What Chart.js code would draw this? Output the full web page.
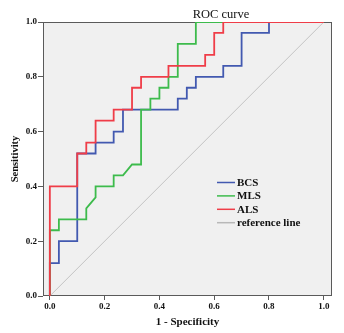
<!DOCTYPE html>
<html>
<head>
<meta charset="utf-8">
<script src="https://cdn.jsdelivr.net/npm/chart.js@4"></script>
<style>
  html, body { margin: 0; padding: 0; background: #fff; }
  #wrap { width: 344px; height: 333px; }
</style>
</head>
<body>
<div id="wrap"><canvas id="myChart" width="344" height="333"></canvas></div>
<script>
// ROC steps (1 - specificity, sensitivity)
const bcsX = [0, 0, 0.033, 0.033, 0.1, 0.1, 0.167, 0.167, 0.233, 0.233, 0.267, 0.267, 0.467, 0.467, 0.5, 0.5, 0.533, 0.533, 0.633, 0.633, 0.7, 0.7, 0.8, 0.8, 1];
const bcsY = [0, 0.12, 0.12, 0.2, 0.2, 0.52, 0.52, 0.56, 0.56, 0.6, 0.6, 0.68, 0.68, 0.72, 0.72, 0.76, 0.76, 0.8, 0.8, 0.84, 0.84, 0.96, 0.96, 1, 1];

const mlsX = [0, 0, 0.033, 0.033, 0.133, 0.133, 0.167, 0.167, 0.233, 0.233, 0.267, 0.3, 0.333, 0.333, 0.367, 0.367, 0.4, 0.4, 0.433, 0.433, 0.467, 0.467, 0.533, 0.533, 1];
const mlsY = [0, 0.24, 0.24, 0.28, 0.28, 0.32, 0.36, 0.4, 0.4, 0.44, 0.44, 0.48, 0.48, 0.68, 0.68, 0.72, 0.72, 0.76, 0.76, 0.8, 0.8, 0.92, 0.92, 1, 1];

const alsX = [0, 0, 0.1, 0.1, 0.133, 0.133, 0.167, 0.167, 0.233, 0.233, 0.3, 0.3, 0.333, 0.333, 0.433, 0.433, 0.567, 0.567, 0.6, 0.6, 0.633, 0.633, 1];
const alsY = [0, 0.4, 0.4, 0.52, 0.52, 0.56, 0.56, 0.64, 0.64, 0.68, 0.68, 0.76, 0.76, 0.8, 0.8, 0.84, 0.84, 0.88, 0.88, 0.96, 0.96, 1, 1];

const refX = [0, 1];
const refY = [0, 1];

const seriesNames = ['BCS', 'MLS', 'ALS', 'reference line'];
const xTicks = [0, 0.2, 0.4, 0.6, 0.8, 1.0];
const yTicks = [0, 0.2, 0.4, 0.6, 0.8, 1.0];

const SERIF = '"Liberation Serif", "Times New Roman", serif';
const frameColor = '#5a5a5a';

function pts(xs, ys) {
    return xs.map((x, i) => ({ x: x, y: ys[i] }));
}

// background, frame, title, axis titles and legend
let decor = {
    id: 'decor',
    beforeDraw(chart) {
        let c = chart.ctx, a = chart.chartArea;
        c.save();
        c.fillStyle = '#f0f0f0';
        c.fillRect(a.left, a.top, a.right - a.left, a.bottom - a.top);
        c.restore();
    },
    beforeDatasetsDraw(chart) {
        let c = chart.ctx, a = chart.chartArea;
        c.save();
        c.strokeStyle = frameColor;
        c.lineWidth = 1;
        c.strokeRect(a.left + 0.5, a.top + 0.5, a.right - a.left - 1, a.bottom - a.top - 1);
        c.restore();
    },
    afterDraw(chart) {
        let c = chart.ctx, a = chart.chartArea;
        c.save();
        c.fillStyle = '#111';
        c.textBaseline = 'middle';
        c.textAlign = 'center';
        c.font = '12.5px ' + SERIF;
        c.fillText('ROC curve', 221, 15);
        c.font = 'bold 11px ' + SERIF;
        c.fillText('1 - Specificity', (a.left + a.right) / 2, 322);
        c.save();
        c.translate(15, (a.top + a.bottom) / 2);
        c.rotate(-Math.PI / 2);
        c.font = 'bold 10.5px ' + SERIF;
        c.fillText('Sensitivity', 0, 0);
        c.restore();

        // legend inside the plot
        c.textAlign = 'left';
        c.font = 'bold 11px ' + SERIF;
        chart.data.datasets.forEach((ds, i) => {
            let y = 182.5 + i * 13.4;
            c.strokeStyle = ds.borderColor;
            c.lineWidth = 1.5;
            c.beginPath();
            c.moveTo(217, y);
            c.lineTo(235, y);
            c.stroke();
            c.fillStyle = '#111';
            c.fillText(ds.label, 237, y + 0.5);
        });
        c.restore();
    }
};

let data = {
    type: 'line',
    data: {
        datasets: [{
            label: seriesNames[0],
            data: pts(bcsX, bcsY),
            borderColor: '#4259b0',
            borderWidth: 1.8,
            order: 2,
        }, {
            label: seriesNames[1],
            data: pts(mlsX, mlsY),
            borderColor: '#3dbb4c',
            borderWidth: 1.8,
            order: 1,
        }, {
            label: seriesNames[2],
            data: pts(alsX, alsY),
            borderColor: '#ef3d48',
            borderWidth: 1.8,
            order: 0,
        }, {
            label: seriesNames[3],
            data: pts(refX, refY),
            borderColor: '#b8b8b8',
            borderWidth: 0.8,
            order: 3,
        }]
    },
    options: {
        responsive: false,
        animation: false,
        elements: {
            point: { radius: 0 },
            line: { tension: 0, fill: false }
        },
        layout: { padding: { left: 0, right: 12, top: 22, bottom: 0 } },
        plugins: {
            legend: { display: false },
            title: { display: false },
            tooltip: { enabled: false }
        },
        scales: {
            x: {
                type: 'linear',
                min: -0.025,
                max: 1.03,
                afterFit: (s) => { s.height = 37; },
                afterBuildTicks: (s) => { s.ticks = xTicks.map(v => ({ value: v })); },
                grid: { drawOnChartArea: false, drawTicks: true, tickLength: 4, color: frameColor },
                border: { display: false },
                ticks: {
                    padding: 1,
                    color: '#111',
                    font: { family: SERIF, size: 9, weight: 'bold' },
                    callback: (v) => v.toFixed(1),
                    maxRotation: 0
                }
            },
            y: {
                type: 'linear',
                min: 0,
                max: 1,
                afterFit: (s) => { s.width = 43; },
                afterBuildTicks: (s) => { s.ticks = yTicks.map(v => ({ value: v })); },
                grid: { drawOnChartArea: false, drawTicks: true, tickLength: 5, color: frameColor },
                border: { display: false },
                ticks: {
                    padding: 1,
                    color: '#111',
                    font: { family: SERIF, size: 9, weight: 'bold' },
                    callback: (v) => v.toFixed(1)
                }
            }
        }
    },
    plugins: [decor]
};

let ctx = document.getElementById('myChart').getContext('2d');
let myChart = new Chart(ctx, data);
</script>
</body>
</html>
